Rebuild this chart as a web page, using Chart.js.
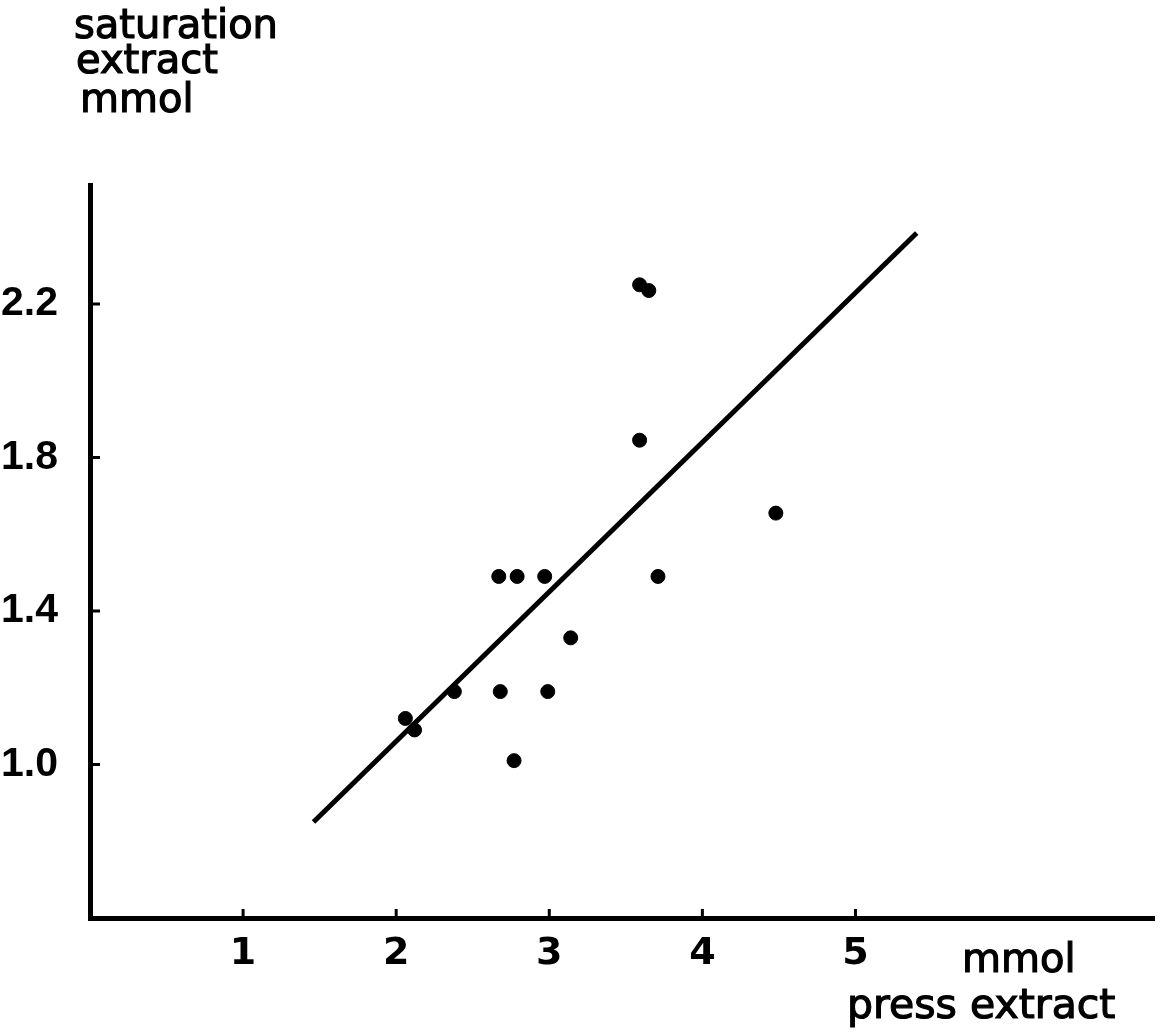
<!DOCTYPE html>
<html>
<head>
<meta charset="utf-8">
<script src="https://cdn.jsdelivr.net/npm/chart.js@4.4.1/dist/chart.umd.min.js"></script>
<style>
  html, body { margin: 0; padding: 0; background: #fff; }
  #wrap { width: 1162px; height: 1033px; }
</style>
</head>
<body>
<div id="wrap"><canvas id="chart"></canvas></div>
<script>
// ── data ───────────────────────────────────────────────
const pressExtract = [3.59, 3.65, 3.59, 4.48, 2.67, 2.79, 2.97, 3.71, 3.14, 2.38, 2.68, 2.99, 2.06, 2.12, 2.77];
const saturationExtract = [2.25, 2.235, 1.845, 1.655, 1.49, 1.49, 1.49, 1.49, 1.33, 1.19, 1.19, 1.19, 1.12, 1.09, 1.01];
const fitX = [1.46, 5.40];
const fitY = [0.85, 2.385];
const xTicks = [1, 2, 3, 4, 5];
const yTicks = [1.0, 1.4, 1.8, 2.2];

const INK = '#000';
const FONT = '"DejaVu Sans", sans-serif';
const NARROW = '"Liberation Sans Narrow", "Liberation Sans", sans-serif';

const points = pressExtract.map((x, i) => ({ x, y: saturationExtract[i] }));
const fitLine = fitX.map((x, i) => ({ x, y: fitY[i] }));

function inkText(ctx, s, x, y) {
  ctx.fillText(s, x, y);
  ctx.strokeText(s, x, y);
}

// inward tick marks + axis captions
const paperPlugin = {
  id: 'paper',
  afterDatasetsDraw(chart) {
    const { ctx, chartArea: a, scales: { x, y } } = chart;
    ctx.save();
    ctx.strokeStyle = INK;
    ctx.lineWidth = 3;
    ctx.beginPath();
    xTicks.forEach(v => {
      const px = x.getPixelForValue(v);
      ctx.moveTo(px, a.bottom);
      ctx.lineTo(px, a.bottom - 9);
    });
    yTicks.forEach(v => {
      const py = y.getPixelForValue(v);
      ctx.moveTo(a.left, py);
      ctx.lineTo(a.left + 10, py);
    });
    ctx.stroke();

    ctx.fillStyle = INK;
    ctx.lineWidth = 1.2;
    ctx.textAlign = 'left';
    ctx.textBaseline = 'alphabetic';
    ctx.font = '40px ' + FONT;
    inkText(ctx, 'saturation', 74, 38);
    inkText(ctx, 'extract', 76, 73);
    inkText(ctx, 'mmol', 80, 112);
    inkText(ctx, 'mmol', 962, 972);
    ctx.font = '41px ' + FONT;
    inkText(ctx, 'press extract', 847, 1018);
    ctx.restore();
  }
};

new Chart(document.getElementById('chart'), {
  type: 'scatter',
  data: {
    datasets: [
      {
        data: points,
        backgroundColor: INK,
        borderColor: INK,
        pointRadius: 7,
        pointHoverRadius: 7
      },
      {
        type: 'line',
        data: fitLine,
        borderColor: INK,
        borderWidth: 5,
        pointRadius: 0,
        fill: false
      }
    ]
  },
  plugins: [paperPlugin],
  options: {
    responsive: true,
    maintainAspectRatio: false,
    animation: false,
    layout: { padding: { top: 185, right: 2, left: 0, bottom: 0 } },
    plugins: { legend: { display: false }, tooltip: { enabled: false } },
    scales: {
      x: {
        type: 'linear',
        min: 0,
        max: 6.95,
        afterFit: s => { s.height = 115; },
        afterBuildTicks: s => { s.ticks = xTicks.map(v => ({ value: v })); },
        grid: { display: false, drawTicks: false },
        border: { display: true, color: INK, width: 5 },
        ticks: { color: INK, padding: 13, font: { family: FONT, size: 38, weight: 'bold' }, maxRotation: 0 }
      },
      y: {
        type: 'linear',
        min: 0.6,
        max: 2.51,
        afterFit: s => { s.width = 90; },
        afterBuildTicks: s => { s.ticks = yTicks.map(v => ({ value: v })); },
        grid: { display: false, drawTicks: false },
        border: { display: true, color: INK, width: 5 },
        ticks: {
          color: INK,
          padding: 32,
          font: { family: NARROW, size: 41, weight: 'bold' },
          callback: v => v.toFixed(1)
        }
      }
    }
  }
});
</script>
</body>
</html>
